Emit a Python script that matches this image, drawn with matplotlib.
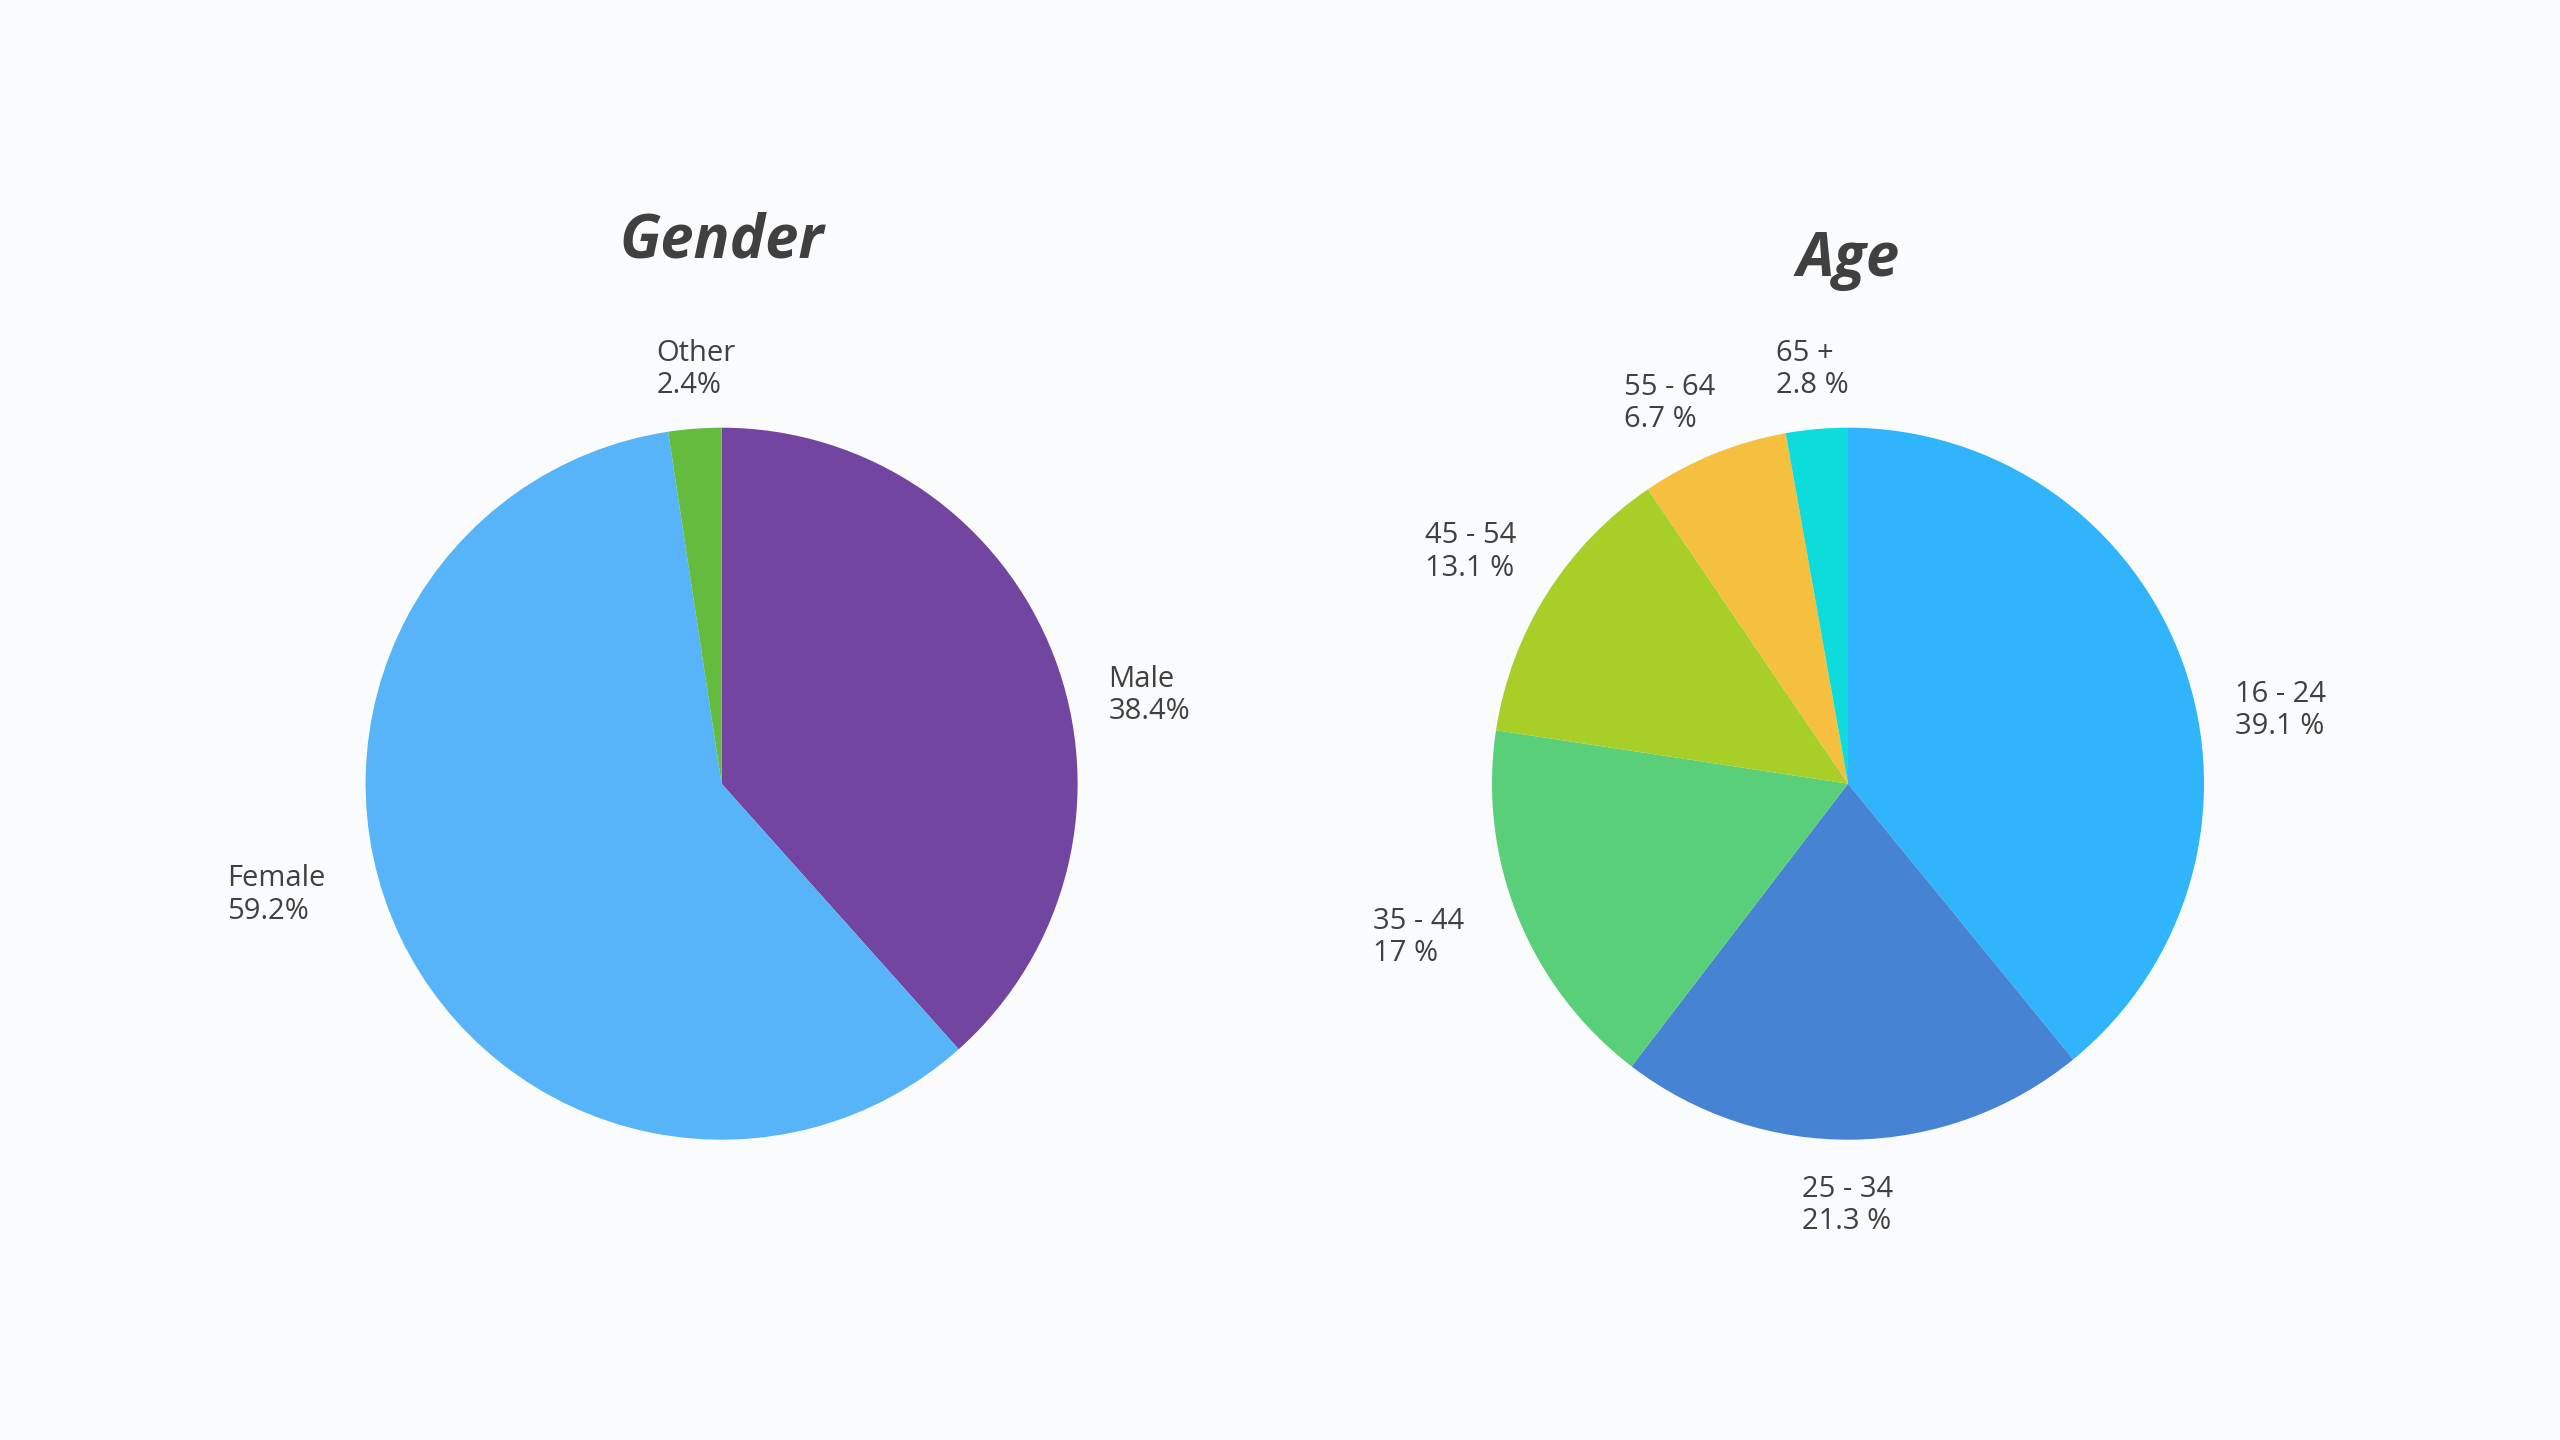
"""Gender / Age split of respondents, two pies side by side."""

import matplotlib.pyplot as plt

# --- data -------------------------------------------------------------
gender_labels = ["Male", "Female", "Other"]
gender_values = [38.4, 59.2, 2.4]
gender_text = ["38.4%", "59.2%", "2.4%"]

age_labels = ["16 - 24", "25 - 34", "35 - 44", "45 - 54", "55 - 64", "65 +"]
age_values = [39.1, 21.3, 17, 13.1, 6.7, 2.8]
age_text = ["39.1 %", "21.3 %", "17 %", "13.1 %", "6.7 %", "2.8 %"]

# --- styling ----------------------------------------------------------
gender_colors = ["#7145a0", "#58b4f8", "#65bb3e"]
age_colors = ["#30b4fc", "#4683d3", "#5acf7a", "#a8cf28", "#f6c03f", "#0edcdc"]

# label anchors (left edge, vertical centre) in pie-radius units
gender_pos = [(1.087, 0.247), (-1.390, -0.313), (-0.183, 1.164)]
age_pos = [(1.087, 0.206), (-0.128, -1.184), (-1.335, -0.432),
           (-1.188, 0.651), (-0.628, 1.068), (-0.202, 1.164)]

BG = "#fafbfd"
TXT = "#404040"
FONT = ["Open Sans", "DejaVu Sans"]

W, H, DPI = 2560, 1440, 100
R = 356          # pie radius in px
L = 1.8          # half-extent of each axes in radius units


def pie_axes(fig, cx, cy_top):
    side = 2 * L * R
    cy = H - cy_top
    ax = fig.add_axes([(cx - side / 2) / W, (cy - side / 2) / H, side / W, side / H])
    ax.set_xlim(-L, L)
    ax.set_ylim(-L, L)
    ax.set_aspect("equal")
    ax.axis("off")
    return ax


def draw(ax, values, colors, labels, pcts, pos, title, title_y):
    ax.pie(values, colors=colors, startangle=90, counterclock=False, radius=1,
           wedgeprops={"linewidth": 0})
    for lab, pct, (x, y) in zip(labels, pcts, pos):
        ax.text(x, y, f"{lab}\n{pct}", ha="left", va="center", fontsize=21,
                color=TXT, family=FONT, linespacing=1.15)
    ax.text(0, title_y, title, ha="center", va="center", fontsize=43,
            fontweight="bold", style="italic", color=TXT, family=FONT)
    ax.set_xlim(-L, L)
    ax.set_ylim(-L, L)


fig = plt.figure(figsize=(W / DPI, H / DPI), dpi=DPI)
fig.patch.set_facecolor(BG)

ax1 = pie_axes(fig, 721.6, 783.7)
draw(ax1, gender_values, gender_colors, gender_labels, gender_text, gender_pos,
     "Gender", 1.522)

ax2 = pie_axes(fig, 1848.0, 783.7)
draw(ax2, age_values, age_colors, age_labels, age_text, age_pos, "Age", 1.47)

fig.savefig("out.png", dpi=DPI, facecolor=BG)
